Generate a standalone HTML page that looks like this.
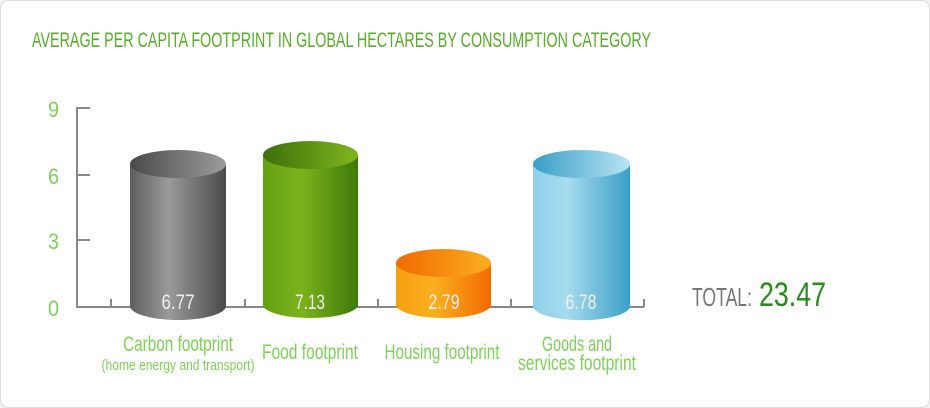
<!DOCTYPE html>
<html><head><meta charset="utf-8"><style>
html,body{margin:0;padding:0;background:#f2f2f2;}
svg{display:block}
text{font-family:"Liberation Sans",sans-serif;}
</style></head><body>
<svg width="930" height="408" viewBox="0 0 930 408" xmlns="http://www.w3.org/2000/svg">
<defs>
<linearGradient id="g1" x1="0" x2="1"><stop offset="0" stop-color="#5e5e5e"/><stop offset="0.4" stop-color="#9a9a9a"/><stop offset="1" stop-color="#4a4a4a"/></linearGradient>
<linearGradient id="g1t" x1="0" x2="1"><stop offset="0" stop-color="#4a4a4a"/><stop offset="1" stop-color="#9c9c9c"/></linearGradient>
<linearGradient id="g2" x1="0" x2="1"><stop offset="0" stop-color="#64a014"/><stop offset="0.4" stop-color="#7cb31c"/><stop offset="1" stop-color="#3f7a0a"/></linearGradient>
<linearGradient id="g2t" x1="0" x2="1"><stop offset="0" stop-color="#3d6f08"/><stop offset="1" stop-color="#7fb61e"/></linearGradient>
<linearGradient id="g3" x1="0" x2="1"><stop offset="0" stop-color="#f5a010"/><stop offset="0.4" stop-color="#fbb020"/><stop offset="1" stop-color="#f26a00"/></linearGradient>
<linearGradient id="g3t" x1="0" x2="1"><stop offset="0" stop-color="#f26a00"/><stop offset="1" stop-color="#fbae20"/></linearGradient>
<linearGradient id="g4" x1="0" x2="1"><stop offset="0" stop-color="#8fd0e8"/><stop offset="0.35" stop-color="#a6dcee"/><stop offset="1" stop-color="#3a9fc8"/></linearGradient>
<linearGradient id="g4t" x1="0" x2="1"><stop offset="0" stop-color="#3a9fc8"/><stop offset="1" stop-color="#b8e4f2"/></linearGradient>
</defs>
<rect x="0.5" y="0.5" width="929" height="407" rx="8" fill="#fff" stroke="#ddd"/>
<text x="32" y="47" font-size="21" fill="#5aaa2c" textLength="619" lengthAdjust="spacingAndGlyphs">AVERAGE PER CAPITA FOOTPRINT IN GLOBAL HECTARES BY CONSUMPTION CATEGORY</text>
<g stroke="#888" stroke-width="2" fill="none">
<path d="M90 108H77V307H644"/>
<path d="M77 175H90M77 240H90"/>
<path d="M111 307v-8M245 307v-8M378 307v-8M511 307v-8M644 307v-8"/>
</g>
<g font-size="22" fill="#7dd05a">
<text x="48" y="117" textLength="11" lengthAdjust="spacingAndGlyphs">9</text><text x="48" y="184" textLength="11" lengthAdjust="spacingAndGlyphs">6</text><text x="48" y="249" textLength="11" lengthAdjust="spacingAndGlyphs">3</text><text x="48" y="316" textLength="11" lengthAdjust="spacingAndGlyphs">0</text>
</g>
<g>
<path d="M130 164V306A48 14 0 0 0 226 306V164Z" fill="url(#g1)"/>
<ellipse cx="178" cy="164" rx="48" ry="14" fill="url(#g1t)"/>
<path d="M263 155V306A48 14 0 0 0 358 306V155Z" fill="url(#g2)"/>
<ellipse cx="310.5" cy="155" rx="47.5" ry="14" fill="url(#g2t)"/>
<path d="M396 263V306A48 14 0 0 0 491 306V263Z" fill="url(#g3)"/>
<ellipse cx="443.5" cy="263" rx="47.5" ry="14" fill="url(#g3t)"/>
<path d="M533 164V306A48 14 0 0 0 630 306V164Z" fill="url(#g4)"/>
<ellipse cx="581.5" cy="164" rx="48.5" ry="14" fill="url(#g4t)"/>
</g>
<g font-size="21" fill="#eee" text-anchor="middle">
<text x="178" y="309" textLength="33" lengthAdjust="spacingAndGlyphs">6.77</text>
<text x="310" y="309" textLength="30" lengthAdjust="spacingAndGlyphs">7.13</text>
<text x="444" y="309" textLength="31" lengthAdjust="spacingAndGlyphs">2.79</text>
<text x="581" y="309" textLength="31" lengthAdjust="spacingAndGlyphs">6.78</text>
</g>
<g fill="#7dd05a" text-anchor="middle">
<text x="178" y="351" font-size="21" textLength="110" lengthAdjust="spacingAndGlyphs">Carbon footprint</text>
<text x="178" y="370" font-size="15" textLength="153" lengthAdjust="spacingAndGlyphs">(home energy and transport)</text>
<text x="310" y="359" font-size="21" textLength="96" lengthAdjust="spacingAndGlyphs">Food footprint</text>
<text x="442" y="359" font-size="21" textLength="115" lengthAdjust="spacingAndGlyphs">Housing footprint</text>
<text x="577" y="351" font-size="21" textLength="70" lengthAdjust="spacingAndGlyphs">Goods and</text>
<text x="577" y="370" font-size="21" textLength="118" lengthAdjust="spacingAndGlyphs">services footprint</text>
</g>
<text x="692" y="306" font-size="26" fill="#777" textLength="60" lengthAdjust="spacingAndGlyphs">TOTAL:</text>
<text x="759" y="306" font-size="34" fill="#2a8a1e" textLength="67" lengthAdjust="spacingAndGlyphs">23.47</text>
</svg>
</body></html>
